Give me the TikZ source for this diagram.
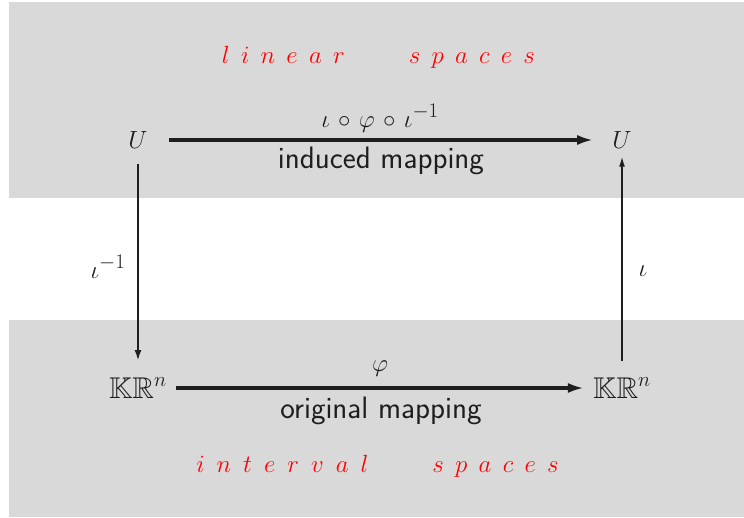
\documentclass[tikz,border=0pt]{standalone}
\usepackage{amssymb}
\usetikzlibrary{arrows.meta}
\definecolor{band}{HTML}{D9D9D9}
\definecolor{ink}{HTML}{1E1E1E}
\definecolor{spacered}{HTML}{FF0000}
\newcommand{\gp}{\hspace{0.37em}}
\newcommand{\gq}{\hspace{0.395em}}
\begin{document}
\begin{tikzpicture}[x=1pt,y=-1pt,
  every node/.style={inner sep=0pt,text=ink,font=\fontsize{30}{36}\selectfont},
  obj/.style={minimum size=0pt},
  lbl/.style={anchor=base,font=\fontsize{32}{38}\selectfont},
  txt/.style={anchor=base,font=\fontsize{31}{37}\selectfont\sffamily},
  heavy/.style={draw=ink,line width=3.2pt,-{Latex[length=16pt,width=10pt]}},
  light/.style={draw=ink,line width=2.2pt,-{Latex[length=11pt,width=7pt]}},
  thin/.style={draw=ink,line width=1.4pt,-{Latex[length=10pt,width=6pt]}},
  redtext/.style={anchor=base,text=spacered,font=\fontsize{30.5}{36}\selectfont}]
\useasboundingbox (0,0) rectangle (744,517);
\fill[band] (9,2) rectangle (744,198);
\fill[band] (9,320) rectangle (744,517);
% objects
\node[obj] (Ul) at (138,140) {$U$};
\node[obj] (Ur) at (622,140) {$U$};
\node[obj] (Kl) at (138,388) {$\mathbb{KR}^n$};
\node[obj] (Kr) at (622,388) {$\mathbb{KR}^n$};
% arrows
\draw[heavy,shorten <=21pt,shorten >=19pt] (Ul) -- (Ur);
\draw[heavy,shorten <=9pt,shorten >=9pt] (Kl) -- (Kr);
\draw[light,shorten <=15pt,shorten >=16pt] (Ul) -- (Kl);
\draw[thin,shorten <=16pt,shorten >=8pt] (Kr) -- (Ur);
% labels
\node[lbl] (top) at (380,127) {$\iota\mskip2mu\circ\mskip2mu\varphi\mskip2mu\circ\mskip2mu\iota^{-1}$};
\node[txt] (ind) at (381,168) {induced mapping};
\node[lbl] (phi) at (380,371) {$\varphi$};
\node[txt] (orig) at (381,418) {original mapping};
\node[lbl] (iinv) at (108,278) {$\iota^{-1}$};
\node[lbl] (iota) at (643,276) {$\iota$};
\node[redtext] (lin) at (378.5,63) {$l\gp i\gp n\gp e\gp a\gp r\hspace{2.1em}s\gp p\gp a\gp c\gp e\gp s$};
\node[redtext] (intv) at (377.5,472) {$i\gq n\gq t\gq e\gq r\gq v\gq a\gq l\hspace{2.1em}s\gp p\gp a\gp c\gp e\gp s$};
\end{tikzpicture}
\end{document}
